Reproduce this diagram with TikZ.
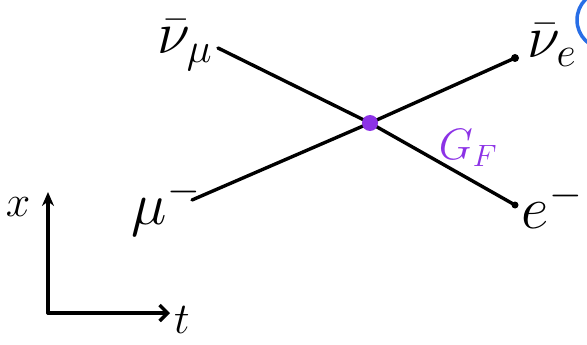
\documentclass[tikz,border=0pt]{standalone}
\usepackage{fix-cm}
\usetikzlibrary{arrows.meta}
\definecolor{vpurple}{RGB}{140,50,230}
\definecolor{cblue}{RGB}{40,110,230}
\begin{document}
\begin{tikzpicture}[x=1pt,y=-1pt,
  line/.style={line width=3.4pt,line cap=round},
  biglbl/.style={inner sep=0pt,font=\fontsize{60}{66}\selectfont},
  midlbl/.style={inner sep=0pt,font=\fontsize{44}{50}\selectfont}]
\useasboundingbox (0,0) rectangle (587,345);
\fill[white] (0,0) rectangle (587,345);
% blue partial circle at corner
\begin{scope}
\clip (0,0) rectangle (587,345);
\draw[cblue, line width=3.5pt] (606,20) circle (29);
\end{scope}
\coordinate (v) at (370,123);
\coordinate (a) at (218,48);
\coordinate (b) at (515,205);
\coordinate (c) at (192,200);
\coordinate (d) at (515,58);
\draw[line] (a) -- (v) -- (b);
\draw[line] (c) -- (v) -- (d);
\fill (b) circle (3.5);
\fill (d) circle (4);
\fill[vpurple] (v) circle (8);
\node[biglbl] (numu) at (185,45) {$\bar\nu_\mu$};
\node[biglbl] (nue) at (552,45) {$\bar\nu_e$};
\node[biglbl] (mu) at (166,207) {$\mu^-$};
\node[biglbl] (el) at (552,205) {$e^-$};
\node[midlbl, text=vpurple] (gf) at (468,148) {$G_F$};
% axes
\coordinate (o) at (48,313);
\coordinate (xa) at (48,192);
\coordinate (ta) at (170,313);
\draw[line, -{Stealth[length=14pt,width=12pt]}] (o) -- (xa);
\draw[line, -{Straight Barb[length=8pt,width=16pt]}] (o) -- (ta);
\node[midlbl] (xl) at (18,207) {$x$};
\node[midlbl] (tl) at (182,320) {$t$};
\end{tikzpicture}
\end{document}
